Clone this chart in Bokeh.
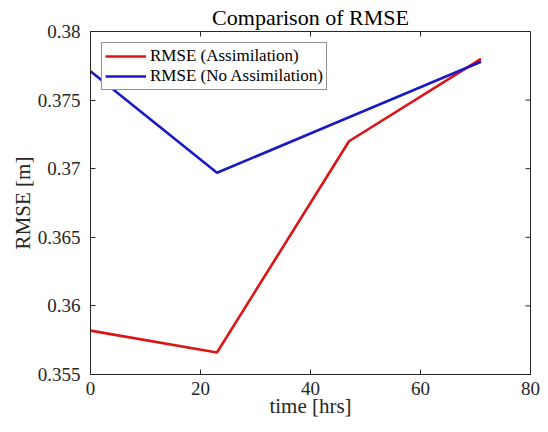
from bokeh.plotting import figure
from bokeh.models import FixedTicker, CustomJSTickFormatter, Legend, LegendItem, Range1d
from bokeh.embed import file_html
from bokeh.resources import INLINE

time_hrs = [0, 23, 47, 71]
rmse_assim = [0.3582, 0.3566, 0.3720, 0.3780]
rmse_noassim = [0.3771, 0.3697, 0.37375, 0.3778]
x_ticks = [0, 20, 40, 60, 80]
y_ticks = [0.355, 0.36, 0.365, 0.37, 0.375, 0.38]

FONT = "Liberation Serif"
DARK = "#262626"

W, H = 540, 424
LEFT, RIGHT, TOP, BOTTOM = 90, 10, 30, 50
X0, X1, Y0, Y1 = 0, 80, 0.355, 0.38

p = figure(width=W, height=H, output_backend="svg", toolbar_location=None,
           x_range=Range1d(X0, X1), y_range=Range1d(Y0, Y1),
           min_border_left=LEFT, min_border_right=RIGHT, min_border_top=TOP, min_border_bottom=BOTTOM,
           x_axis_label="time [hrs]", y_axis_label="RMSE [m]")
p.title.text = "Comparison of RMSE"
p.title.align = "center"
p.title.text_font = FONT
p.title.text_font_size = "22px"
p.title.text_font_style = "normal"
p.title.text_color = "#000000"
p.title.standoff = 4

p.grid.visible = False
p.outline_line_color = DARK
p.outline_line_width = 1

fmt = CustomJSTickFormatter(code="return parseFloat(tick.toFixed(4)).toString();")

for ax in (p.xaxis[0], p.yaxis[0]):
    ax.axis_line_color = DARK
    ax.major_tick_line_color = DARK
    ax.minor_tick_line_color = None
    ax.major_tick_in = 5
    ax.major_tick_out = 0
    ax.major_label_text_font = FONT
    ax.major_label_text_font_size = "19px"
    ax.major_label_text_color = DARK
    ax.axis_label_text_font = FONT
    ax.axis_label_text_font_size = "21px"
    ax.axis_label_text_font_style = "normal"
    ax.axis_label_text_color = DARK
    ax.formatter = fmt

p.xaxis[0].ticker = FixedTicker(ticks=x_ticks)
p.yaxis[0].ticker = FixedTicker(ticks=y_ticks)
p.xaxis[0].major_label_standoff = 7
p.xaxis[0].axis_label_standoff = -4
p.yaxis[0].major_label_standoff = 10
p.yaxis[0].axis_label_standoff = 0

# inward ticks on the top and right edges of the box (5 px long)
frame_w = W - LEFT - RIGHT
frame_h = H - TOP - BOTTOM
ly = 5 * (Y1 - Y0) / frame_h
lx = 5 * (X1 - X0) / frame_w
p.segment(x0=x_ticks, y0=[Y1] * len(x_ticks), x1=x_ticks, y1=[Y1 - ly] * len(x_ticks),
          line_color=DARK, line_width=1)
p.segment(x0=[X1] * len(y_ticks), y0=y_ticks, x1=[X1 - lx] * len(y_ticks), y1=y_ticks,
          line_color=DARK, line_width=1)

r1 = p.line(time_hrs, rmse_assim, line_color="#dc1414", line_width=2.6)
r2 = p.line(time_hrs, rmse_noassim, line_color="#1a1ac4", line_width=2.6)

legend = Legend(items=[LegendItem(label="RMSE (Assimilation)", renderers=[r1]),
                       LegendItem(label="RMSE (No Assimilation)", renderers=[r2])],
                location="top_left", margin=11, padding=3, spacing=0,
                label_text_font=FONT, label_text_font_size="17px", label_text_color="#000000",
                label_height=18, glyph_height=18, glyph_width=41, label_standoff=4,
                border_line_color=DARK, border_line_width=1,
                background_fill_color="white", background_fill_alpha=1)
p.add_layout(legend)

open("out.html", "w").write(file_html(p, INLINE))
